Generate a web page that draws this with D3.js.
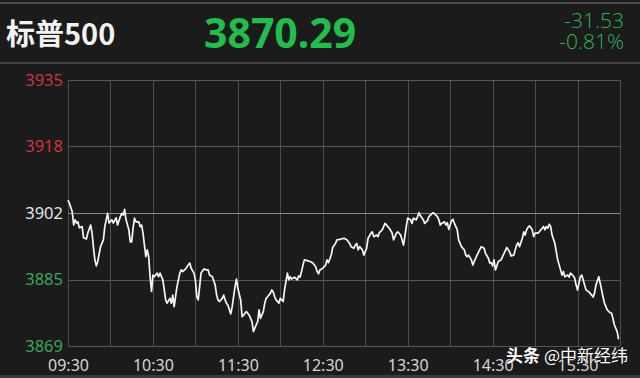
<!DOCTYPE html>
<html>
<head>
<meta charset="utf-8">
<script src="https://cdn.jsdelivr.net/npm/d3@7"></script>
<style>
  html, body { margin: 0; padding: 0; background: #1b1b1b; }
  svg { display: block; }
</style>
</head>
<body>
<div id="chart"></div>
<script>
// values
const indexName = "标普500"
const lastPrice = "3870.29"
const changePts = "-31.53"
const changePct = "-0.81%"
const prevClose = 3901.82

// y tick values (prev close +/- steps) and x tick labels
const yTicks = [3868.6, 3885.2, 3901.82, 3918.4, 3935.0]
const yTickColors = ["#3da45c", "#3da45c", "#e6e6e6", "#cc353d", "#cc353d"]
const xGridMinutes = [0, 30, 60, 90, 120, 150, 180, 210, 240, 270, 300, 330, 360, 390]
const xLabelMinutes = [0, 60, 120, 180, 240, 300, 360]
const xLabels = ["09:30", "10:30", "11:30", "12:30", "13:30", "14:30", "15:30"]

// minutes after 09:30 and price
const minutes = [0, 1, 3, 4, 5, 6, 7, 8, 10, 11, 13, 14, 16, 17, 18, 19, 20, 21, 23, 25,
  26, 27, 28, 29, 31, 32, 34, 35, 37, 38, 39, 40, 41, 43, 44, 45, 46, 47, 48, 50,
  51, 52, 53, 54, 55, 56, 57, 58, 59, 60, 61, 63, 64, 65, 67, 68, 69, 70, 72, 73,
  74, 75, 76, 77, 79, 80, 81, 83, 84, 86, 87, 89, 90, 91, 92, 93, 94, 96, 98, 99,
  100, 102, 104, 105, 106, 107, 109, 110, 111, 112, 113, 115, 116, 117, 118, 119, 120, 122, 123, 124,
  126, 128, 130, 131, 133, 134, 135, 136, 138, 139, 140, 141, 143, 144, 145, 146, 147, 149, 150, 152,
  153, 155, 156, 157, 158, 160, 162, 163, 164, 165, 166, 167, 169, 171, 173, 175, 176, 177, 178, 180,
  182, 183, 184, 186, 187, 189, 190, 192, 195, 197, 199, 200, 202, 203, 204, 205, 206, 208, 209, 211,
  212, 214, 215, 216, 218, 219, 220, 222, 224, 226, 227, 229, 230, 231, 232, 233, 235, 236, 237, 238,
  239, 240, 242, 243, 244, 246, 247, 248, 249, 251, 252, 254, 255, 257, 258, 259, 261, 262, 263, 264,
  266, 267, 268, 269, 271, 272, 273, 275, 276, 278, 280, 281, 282, 283, 285, 286, 287, 289, 291, 292,
  294, 295, 297, 298, 299, 300, 301, 302, 303, 304, 306, 307, 309, 310, 312, 313, 315, 316, 317, 318,
  319, 321, 322, 323, 324, 325, 326, 328, 329, 330, 332, 333, 335, 336, 337, 338, 339, 340, 341, 342,
  344, 345, 346, 348, 349, 350, 351, 353, 354, 355, 357, 358, 359, 360, 362, 363, 364, 365, 366, 368,
  370, 371, 372, 373, 375, 376, 377, 378, 379, 381, 383, 384, 385, 386, 388, 389]
const prices = [3905.0, 3904.2, 3902.1, 3898.8, 3900.1, 3899.3, 3899.6, 3898.1, 3898.4, 3895.6,
  3895.3, 3896.8, 3898.8, 3896.8, 3893.1, 3890.1, 3888.6, 3889.7, 3893.4, 3895.1,
  3898.4, 3900.1, 3901.7, 3899.3, 3900.1, 3899.3, 3900.6, 3898.8, 3900.9, 3901.7,
  3901.3, 3902.7, 3900.1, 3897.6, 3894.6, 3894.6, 3898.1, 3900.5, 3899.6, 3899.6,
  3898.4, 3898.8, 3896.8, 3893.8, 3890.9, 3892.6, 3890.9, 3885.9, 3882.2, 3886.3,
  3885.9, 3886.8, 3885.9, 3886.8, 3885.1, 3882.6, 3880.1, 3879.3, 3880.5, 3879.3,
  3881.3, 3878.4, 3880.9, 3883.4, 3886.8, 3887.6, 3887.2, 3887.8, 3888.3, 3889.3,
  3888.0, 3886.8, 3885.1, 3880.9, 3880.1, 3883.4, 3886.8, 3887.8, 3887.6, 3887.6,
  3886.3, 3885.9, 3883.8, 3881.3, 3880.1, 3879.7, 3880.5, 3881.3, 3880.1, 3879.3,
  3878.8, 3876.6, 3878.4, 3880.9, 3883.4, 3885.3, 3883.0, 3880.1, 3875.9, 3876.3,
  3877.2, 3876.3, 3874.7, 3872.2, 3873.9, 3874.7, 3877.6, 3875.5, 3877.2, 3879.3,
  3880.5, 3880.9, 3881.8, 3882.6, 3882.1, 3880.9, 3880.1, 3879.3, 3880.5, 3879.7,
  3882.6, 3886.8, 3885.1, 3885.9, 3885.3, 3885.8, 3885.1, 3886.1, 3885.8, 3887.2,
  3888.8, 3890.1, 3889.9, 3889.7, 3889.3, 3888.4, 3887.2, 3886.6, 3887.6, 3888.0,
  3888.8, 3890.1, 3889.4, 3891.3, 3893.2, 3894.2, 3895.1, 3895.2, 3895.5, 3895.1,
  3894.2, 3893.4, 3893.0, 3893.8, 3894.2, 3892.6, 3893.4, 3892.6, 3891.3, 3893.0,
  3895.5, 3896.7, 3897.1, 3895.9, 3896.3, 3895.9, 3896.9, 3897.6, 3899.2, 3898.4,
  3898.0, 3896.8, 3895.1, 3895.9, 3896.8, 3897.1, 3896.3, 3895.1, 3893.8, 3895.9,
  3898.4, 3900.5, 3900.1, 3899.2, 3900.5, 3900.1, 3900.9, 3901.9, 3901.1, 3900.1,
  3899.2, 3899.9, 3900.9, 3901.6, 3901.9, 3901.6, 3900.9, 3900.1, 3898.8, 3899.2,
  3899.6, 3898.8, 3899.4, 3897.7, 3899.9, 3900.2, 3899.2, 3897.6, 3895.1, 3893.4,
  3892.6, 3891.3, 3890.9, 3891.3, 3890.1, 3888.8, 3889.7, 3891.3, 3892.7, 3893.4,
  3893.0, 3891.7, 3890.5, 3889.3, 3889.4, 3888.6, 3890.1, 3887.6, 3888.6, 3889.7,
  3890.1, 3890.9, 3892.4, 3893.2, 3892.1, 3891.1, 3891.3, 3892.6, 3893.8, 3894.4,
  3893.4, 3895.5, 3897.1, 3896.3, 3897.6, 3898.2, 3898.6, 3897.6, 3895.9, 3896.8,
  3896.8, 3897.1, 3898.0, 3898.4, 3897.6, 3898.4, 3898.0, 3899.0, 3898.4, 3896.3,
  3894.2, 3892.1, 3890.1, 3887.6, 3886.3, 3887.2, 3885.9, 3886.3, 3885.8, 3886.8,
  3886.1, 3885.5, 3883.8, 3882.6, 3885.9, 3886.3, 3885.1, 3883.8, 3882.6, 3882.1,
  3881.3, 3880.8, 3881.8, 3883.8, 3885.9, 3884.3, 3882.6, 3880.9, 3879.3, 3877.6,
  3876.9, 3876.8, 3875.5, 3873.9, 3872.2, 3870.29]

const width = 640
const height = 378
const plot = { left: 68, right: 620, top: 80, bottom: 346 }

const svg = d3.select("#chart").append("svg")
  .attr("width", width)
  .attr("height", height)

svg.append("rect")
  .attr("width", width).attr("height", height)
  .attr("fill", "#1b1b1b")

// header
svg.append("line")
  .attr("x1", 0).attr("x2", width).attr("y1", 3).attr("y2", 3)
  .attr("stroke", "#4a4a4a").attr("stroke-width", 2)
svg.append("line")
  .attr("x1", 0).attr("x2", width).attr("y1", 63).attr("y2", 63)
  .attr("stroke", "#444").attr("stroke-width", 2)

svg.append("text")
  .attr("x", 6).attr("y", 45)
  .attr("fill", "#f2f2f2")
  .style("font", "bold 29px 'Noto Sans CJK SC', 'Noto Sans', sans-serif")
  .text(indexName)

svg.append("text")
  .attr("x", 204).attr("y", 48)
  .attr("fill", "#22bd4c")
  .style("font", "bold 41px 'Noto Sans', 'Open Sans', sans-serif")
  .text(lastPrice)

svg.append("text")
  .attr("x", 624).attr("y", 28)
  .attr("text-anchor", "end")
  .attr("fill", "#2fb552")
  .style("font", "300 21px 'Open Sans', 'Noto Sans', sans-serif")
  .text(changePts)

svg.append("text")
  .attr("x", 624).attr("y", 49)
  .attr("text-anchor", "end")
  .attr("fill", "#2fb552")
  .style("font", "300 21px 'Open Sans', 'Noto Sans', sans-serif")
  .text(changePct)

// scales
const x = d3.scaleLinear()
  .domain([0, 390])
  .range([plot.left, plot.right])

const y = d3.scaleLinear()
  .domain([yTicks[0], yTicks[yTicks.length - 1]])
  .range([plot.bottom, plot.top])

// grid
const grid = svg.append("g")
grid.selectAll(".vgrid")
  .data(xGridMinutes)
  .join("line")
  .attr("class", "vgrid")
  .attr("x1", d => Math.round(x(d)) + 0.5)
  .attr("x2", d => Math.round(x(d)) + 0.5)
  .attr("y1", plot.top)
  .attr("y2", plot.bottom)
  .attr("stroke", "#4d4d4d")

grid.selectAll(".hgrid")
  .data(yTicks)
  .join("line")
  .attr("class", "hgrid")
  .attr("x1", plot.left)
  .attr("x2", plot.right)
  .attr("y1", d => Math.round(y(d)) + 0.5)
  .attr("y2", d => Math.round(y(d)) + 0.5)
  .attr("stroke", d => d === prevClose ? "#8a8a8a" : "#555")

// y labels
svg.append("g")
  .selectAll("text")
  .data(yTicks)
  .join("text")
  .attr("x", 63)
  .attr("y", d => y(d))
  .attr("dy", "0.36em")
  .attr("text-anchor", "end")
  .attr("fill", (d, i) => yTickColors[i])
  .style("font", "16.5px 'Noto Sans', 'Open Sans', sans-serif")
  .text(d => d3.format(".0f")(d))

// x labels
const xAxis = d3.axisBottom(x)
  .tickValues(xLabelMinutes)
  .tickSize(0)
  .tickPadding(0)
  .tickFormat((d, i) => xLabels[i])

svg.append("g")
  .attr("transform", "translate(0,359)")
  .call(xAxis)
  .call(g => g.select(".domain").remove())
  .call(g => g.selectAll("text")
    .attr("fill", "#d6d6d6")
    .attr("dy", "0.76em")
    .style("font", "16px 'Noto Sans', 'Open Sans', sans-serif"))

// price line
const series = minutes.map((m, i) => ({ m: m, p: prices[i] }))
const line = d3.line()
  .x(d => x(d.m))
  .y(d => y(d.p))

svg.append("path")
  .datum(series)
  .attr("d", line)
  .attr("fill", "none")
  .attr("stroke", "#f6f6f6")
  .attr("stroke-width", 1.7)
  .attr("stroke-linejoin", "round")

// bottom strip
svg.append("rect")
  .attr("x", 0).attr("y", 375).attr("width", width).attr("height", 3)
  .attr("fill", "#3a3a3a")

// watermark
svg.append("text")
  .attr("x", 628).attr("y", 362)
  .attr("text-anchor", "end")
  .attr("fill", "#ffffff")
  .attr("stroke", "#111").attr("stroke-width", 0.6).attr("paint-order", "stroke")
  .style("font", "17px 'Noto Sans CJK SC', sans-serif")
  .call(t => t.append("tspan").style("font-weight", "bold").text("头条 "))
  .call(t => t.append("tspan").text("@中新经纬"))
</script>
</body>
</html>
